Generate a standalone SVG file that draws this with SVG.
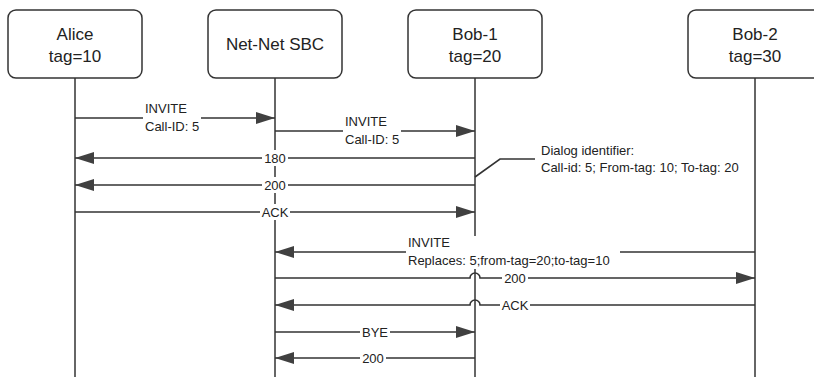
<svg xmlns="http://www.w3.org/2000/svg" width="814" height="377" viewBox="0 0 814 377">
<style>
.box{fill:#fff;stroke:#333;stroke-width:1.5}
.life{stroke:#666;stroke-width:2;fill:none}
.msg{stroke:#333;stroke-width:1.6;fill:none}
.hd{font-family:"Liberation Sans",Arial,sans-serif;font-size:17px;fill:#222;text-anchor:middle}
.lb{font-family:"Liberation Sans",Arial,sans-serif;font-size:13px;fill:#222}
.lbm{font-family:"Liberation Sans",Arial,sans-serif;font-size:13px;fill:#222;text-anchor:middle}
.bg{fill:#fff}
</style>
<defs>
<marker id="ah" markerUnits="userSpaceOnUse" markerWidth="19" markerHeight="12" refX="19" refY="6" orient="auto" viewBox="0 0 19 12">
<path d="M0,0 L19,6 L0,12 z" fill="#404040"/>
</marker>
</defs>
<rect width="814" height="377" fill="#fff"/>
<g id="alice">
<line class="life" x1="75" y1="78" x2="75" y2="377"/>
<rect class="box" x="8" y="10" width="134" height="68" rx="8"/>
<text class="hd" x="75" y="40">Alice</text>
<text class="hd" x="75" y="62">tag=10</text>
</g>
<g id="sbc">
<line class="life" x1="275" y1="78" x2="275" y2="377"/>
<rect class="box" x="208" y="10" width="134" height="68" rx="8"/>
<text class="hd" x="275" y="50">Net-Net SBC</text>
</g>
<g id="bob1">
<line class="life" x1="475" y1="78" x2="475" y2="377"/>
<rect class="box" x="408" y="10" width="134" height="68" rx="8"/>
<text class="hd" x="475" y="40">Bob-1</text>
<text class="hd" x="475" y="62">tag=20</text>
</g>
<g id="bob2">
<line class="life" x1="755" y1="78" x2="755" y2="377"/>
<rect class="box" x="688" y="10" width="134" height="68" rx="8"/>
<text class="hd" x="755" y="40">Bob-2</text>
<text class="hd" x="755" y="62">tag=30</text>
</g>
<g id="connectors">
<g id="m1">
<line class="msg" x1="75" y1="118" x2="275" y2="118" marker-end="url(#ah)"/>
<rect class="bg" x="143" y="102" width="58" height="33"/>
<text class="lb" x="145" y="113">INVITE</text>
<text class="lb" x="145" y="131">Call-ID: 5</text>
</g>
<g id="m2">
<line class="msg" x1="275" y1="131" x2="475" y2="131" marker-end="url(#ah)"/>
<rect class="bg" x="343" y="115" width="58" height="33"/>
<text class="lb" x="345" y="126">INVITE</text>
<text class="lb" x="345" y="144">Call-ID: 5</text>
</g>
<g id="m3">
<line class="msg" x1="475" y1="158" x2="75" y2="158" marker-end="url(#ah)"/>
<rect class="bg" x="262" y="150" width="26" height="16"/>
<text class="lbm" x="275" y="163">180</text>
</g>
<g id="m4">
<line class="msg" x1="475" y1="185" x2="75" y2="185" marker-end="url(#ah)"/>
<rect class="bg" x="262" y="177" width="26" height="16"/>
<text class="lbm" x="275" y="190">200</text>
</g>
<g id="m5">
<line class="msg" x1="75" y1="212" x2="475" y2="212" marker-end="url(#ah)"/>
<rect class="bg" x="260" y="204" width="30" height="16"/>
<text class="lbm" x="275" y="217">ACK</text>
</g>
<g id="note">
<path class="msg" d="M475,177 L500,159 L535,159" stroke="#111"/>
<text class="lb" x="541" y="155">Dialog identifier:</text>
<text class="lb" x="541" y="172">Call-id: 5; From-tag: 10; To-tag: 20</text>
</g>
<g id="m6">
<line class="msg" x1="755" y1="252" x2="275" y2="252" marker-end="url(#ah)"/>
<rect class="bg" x="406" y="236" width="214" height="33"/>
<text class="lb" x="408" y="247">INVITE</text>
<text class="lb" x="408" y="265">Replaces: 5;from-tag=20;to-tag=10</text>
</g>
<g id="m7">
<path class="msg" d="M275,278 L470,278 A5,5 0 0 1 480,278 L755,278" marker-end="url(#ah)"/>
<rect class="bg" x="502" y="270" width="26" height="16"/>
<text class="lbm" x="515" y="283">200</text>
</g>
<g id="m8">
<path class="msg" d="M755,305 L480,305 A5,5 0 0 0 470,305 L275,305" marker-end="url(#ah)"/>
<rect class="bg" x="500" y="297" width="30" height="16"/>
<text class="lbm" x="515" y="310">ACK</text>
</g>
<g id="m9">
<line class="msg" x1="275" y1="332" x2="475" y2="332" marker-end="url(#ah)"/>
<rect class="bg" x="360" y="324" width="30" height="16"/>
<text class="lbm" x="375" y="337">BYE</text>
</g>
<g id="m10">
<line class="msg" x1="475" y1="358" x2="275" y2="358" marker-end="url(#ah)"/>
<rect class="bg" x="360" y="350" width="26" height="16"/>
<text class="lbm" x="373" y="363">200</text>
</g>
</g>
</svg>
